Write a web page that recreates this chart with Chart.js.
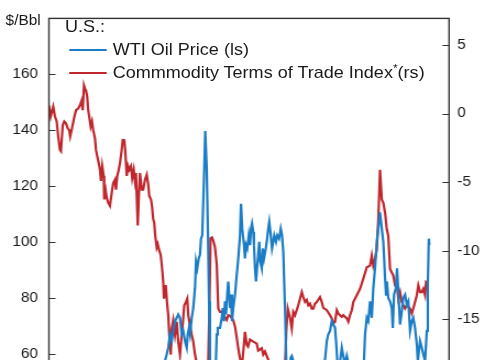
<!DOCTYPE html>
<html>
<head>
<meta charset="utf-8">
<script src="https://cdn.jsdelivr.net/npm/chart.js@4.4.1/dist/chart.umd.min.js"></script>
<style>
html,body{margin:0;padding:0;background:#fff;overflow:hidden;width:485px;height:360px;}
#wrap{position:absolute;left:0;top:0;width:441px;height:540px;transform:scaleX(1.0998);transform-origin:0 0;font-family:"Liberation Sans",Arial,sans-serif;color:#1a1a1a;}
#c{position:absolute;left:0;top:0;}
.t{position:absolute;white-space:nowrap;line-height:1;}
.leg{font-size:16.4px;}
.sw{position:absolute;height:2.2px;width:34px;left:62.7px;}
.star{font-size:11px;position:relative;top:-6px;}
</style>
</head>
<body>
<div id="wrap">
  <div class="t" style="right:404px;top:13px;font-size:14px;">$/Bbl</div>
  <canvas id="c" width="441" height="540"></canvas>
  <div class="t leg" style="left:59.1px;top:18.4px;">U.S.:</div>
  <div class="sw" style="top:49px;background:#1b7dc5;"></div>
  <div class="t leg" style="left:102.5px;top:41px;">WTI Oil Price (ls)</div>
  <div class="sw" style="top:72px;background:#c0272d;"></div>
  <div class="t leg" style="left:102.5px;top:63.5px;">Commmodity Terms of Trade Index<span class="star">*</span>(rs)</div>
</div>
<script>
// Time axis in decimal years
const leftTicks = [0, 20, 40, 60, 80, 100, 120, 140, 160];
const rightTicks = [-25, -20, -15, -10, -5, 0, 5];

// U.S. commodity terms of trade index (right scale)
const totDates = [1996.00,1996.14,1996.26,1996.34,1996.48,1996.62,1996.74,1996.88,1996.96,1997.10,1997.22,1997.36,1997.50,1997.62,1997.70,1997.84,1998.00,1998.16,1998.34,1998.48,1998.62,1998.70,1998.80,1998.88,1998.96,1999.06,1999.14,1999.22,1999.34,1999.44,1999.54,1999.68,1999.76,1999.86,1999.98,2000.08,2000.16,2000.26,2000.38,2000.42,2000.54,2000.62,2000.74,2000.88,2001.02,2001.14,2001.28,2001.36,2001.46,2001.58,2001.68,2001.82,2001.90,2002.02,2002.10,2002.22,2002.32,2002.42,2002.56,2002.66,2002.78,2002.88,2002.96,2003.10,2003.20,2003.28,2003.42,2003.54,2003.68,2003.82,2003.94,2004.02,2004.16,2004.24,2004.34,2004.42,2004.50,2004.62,2004.70,2004.82,2004.94,2005.04,2005.14,2005.20,2005.34,2005.44,2005.54,2005.62,2005.74,2005.82,2005.94,2006.08,2006.22,2006.34,2006.48,2006.62,2006.74,2006.82,2006.96,2007.06,2007.14,2007.28,2007.42,2007.54,2007.68,2007.82,2007.96,2008.08,2008.24,2008.40,2008.56,2008.68,2008.74,2008.84,2008.92,2009.04,2009.14,2009.28,2009.42,2009.54,2009.68,2009.82,2009.94,2010.22,2010.34,2010.48,2010.74,2010.88,2011.02,2011.14,2011.28,2011.44,2011.68,2011.82,2011.92,2012.08,2012.34,2012.62,2012.74,2013.02,2013.14,2013.28,2013.54,2013.68,2014.00,2014.32,2014.64,2014.88,2014.98,2015.10,2015.28,2015.42,2015.54,2015.68,2015.94,2016.08,2016.22,2016.34,2016.48,2016.62,2016.74,2016.88,2017.02,2017.14,2017.28,2017.42,2017.68,2017.82,2017.94,2018.22,2018.48,2018.62,2018.74,2018.88,2019.02,2019.14,2019.28,2019.42,2019.54,2019.82,2019.94,2020.08,2020.22,2020.34,2020.62,2020.88,2021.14,2021.42,2021.68,2021.82,2021.94,2022.08,2022.22,2022.34,2022.48,2022.62,2022.74,2022.88,2023.02,2023.14,2023.28,2023.54,2023.68,2023.82,2023.94,2024.08,2024.22,2024.34,2024.48,2024.62,2024.88,2025.02,2025.14,2025.42,2025.54,2025.68,2025.82,2025.94,2026.08,2026.16,2026.34];
const totValues = [0.60,-0.22,0.24,0.51,-0.22,-0.58,-1.66,-2.65,-2.75,-0.85,-0.58,-0.72,-1.08,-1.21,-1.66,-1.08,-0.36,0.24,0.36,0.60,0.96,0.24,2.04,1.81,1.68,1.21,0.24,-0.22,-0.94,-0.58,-1.21,-1.81,-2.65,-3.11,-3.61,-4.10,-4.91,-3.83,-4.55,-6.26,-5.64,-6.14,-6.50,-6.72,-5.78,-5.06,-4.82,-5.54,-4.55,-4.10,-3.61,-2.65,-1.93,-1.95,-2.65,-4.55,-3.83,-4.10,-3.83,-4.70,-4.10,-4.91,-4.34,-8.16,-5.78,-4.34,-5.54,-5.54,-4.82,-4.46,-5.18,-6.00,-6.26,-6.72,-7.71,-7.95,-8.89,-9.75,-9.52,-9.97,-10.33,-11.20,-12.28,-13.49,-12.50,-13.73,-14.67,-16.11,-17.56,-15.66,-15.05,-16.11,-15.17,-16.62,-17.56,-16.11,-14.93,-13.97,-13.73,-13.49,-14.69,-15.41,-16.13,-16.62,-17.56,-18.21,-19.51,-20.95,-22.40,-23.12,-21.68,-20.23,-18.06,-13.73,-9.10,-9.03,-9.25,-9.75,-10.98,-14.21,-14.45,-14.45,-14.67,-15.03,-14.69,-14.74,-15.05,-15.53,-16.33,-17.12,-17.85,-18.42,-15.90,-16.86,-16.98,-16.47,-16.62,-16.76,-17.27,-17.10,-17.56,-17.34,-17.92,-18.79,-19.51,-19.87,-19.15,-18.42,-15.90,-14.21,-14.88,-15.66,-14.45,-14.69,-13.97,-13.49,-13.01,-13.37,-13.73,-13.58,-13.97,-13.85,-14.21,-14.21,-13.85,-13.73,-13.37,-13.73,-14.16,-14.33,-14.69,-14.93,-15.30,-15.17,-14.33,-14.57,-14.69,-14.81,-14.69,-14.93,-15.17,-14.69,-14.33,-13.73,-13.24,-12.77,-12.04,-11.20,-11.08,-10.35,-11.08,-10.60,-9.88,-7.71,-4.10,-6.26,-6.50,-7.23,-8.43,-8.91,-11.32,-11.80,-12.52,-12.52,-13.49,-13.01,-13.73,-13.97,-14.21,-13.97,-14.21,-14.57,-14.21,-13.24,-12.52,-13.01,-13.01,-12.77,-13.24,-12.28,-12.41];

// WTI oil price, $/Bbl (left scale)
const wtiDates = [1996.00,1996.80,1997.90,1998.90,1999.90,2000.70,2001.90,2002.90,2003.50,2004.00,2004.50,2004.90,2005.10,2005.28,2005.42,2005.54,2005.68,2005.82,2005.94,2006.08,2006.22,2006.34,2006.48,2006.62,2006.74,2006.88,2007.02,2007.10,2007.20,2007.28,2007.42,2007.54,2007.68,2007.76,2007.86,2007.98,2008.08,2008.16,2008.26,2008.34,2008.42,2008.50,2008.62,2008.72,2008.80,2008.88,2009.00,2009.16,2009.30,2009.42,2009.50,2009.68,2009.82,2009.90,2010.00,2010.08,2010.16,2010.26,2010.34,2010.48,2010.56,2010.64,2010.74,2010.88,2011.02,2011.14,2011.28,2011.36,2011.46,2011.60,2011.68,2011.76,2011.86,2011.98,2012.08,2012.16,2012.24,2012.34,2012.40,2012.48,2012.56,2012.64,2012.74,2012.82,2012.90,2013.02,2013.10,2013.20,2013.30,2013.42,2013.54,2013.62,2013.74,2013.84,2013.94,2014.02,2014.16,2014.26,2014.40,2014.54,2014.64,2014.74,2014.82,2014.90,2014.98,2015.12,2015.24,2015.34,2015.42,2015.54,2015.76,2016.00,2016.24,2016.56,2016.88,2017.20,2017.52,2017.84,2018.08,2018.22,2018.34,2018.48,2018.62,2018.74,2018.88,2018.96,2019.06,2019.20,2019.42,2019.54,2019.68,2019.82,2019.94,2020.08,2020.24,2020.40,2020.56,2020.72,2020.88,2021.04,2021.20,2021.28,2021.42,2021.54,2021.68,2021.82,2021.94,2022.08,2022.22,2022.34,2022.48,2022.62,2022.74,2022.82,2022.88,2022.96,2023.02,2023.14,2023.28,2023.42,2023.50,2023.60,2023.74,2023.84,2023.94,2024.08,2024.22,2024.34,2024.48,2024.62,2024.74,2024.88,2025.02,2025.14,2025.28,2025.42,2025.50,2025.68,2025.82,2025.94,2026.08,2026.22,2026.30,2026.38,2026.42];
const wtiValues = [19.5,25.0,18.5,11.5,26.0,33.0,19.5,30.0,30.5,34.0,41.0,46.0,52.0,57.5,59.9,62.2,67.0,64.6,68.2,71.7,72.9,74.1,72.9,67.0,68.2,64.6,62.2,67.0,69.3,67.0,72.9,76.4,83.5,93.0,90.6,94.2,95.4,101.2,102.4,114.3,126.1,139.7,126.1,102.4,78.8,57.5,42.0,40.0,50.0,67.0,69.3,69.3,72.9,76.4,71.7,78.8,74.1,81.2,85.9,76.4,81.2,71.7,76.4,81.2,88.3,94.1,102.4,113.7,104.8,98.9,94.1,98.9,97.7,102.4,98.9,104.8,106.6,103.6,98.9,90.6,85.9,90.6,95.4,100.1,93.0,90.6,97.7,94.1,96.5,100.1,104.8,107.2,102.4,97.7,100.1,102.4,100.1,102.4,101.2,104.8,102.4,96.5,84.7,72.9,57.5,48.0,52.0,58.7,59.3,57.5,45.0,32.0,38.0,45.0,49.0,52.0,47.0,55.0,58.0,64.6,67.0,68.2,71.7,70.5,69.3,64.6,57.5,54.0,62.2,59.3,56.0,59.3,57.0,52.0,30.0,22.0,40.0,40.0,42.0,52.0,58.0,67.0,72.9,71.7,78.8,72.9,83.5,90.6,100.1,104.8,110.6,104.8,100.1,93.0,87.1,81.2,85.9,80.0,78.8,76.4,69.3,81.2,83.5,90.6,82.3,70.5,75.3,80.0,81.2,77.6,78.8,68.2,71.7,72.9,69.3,63.4,57.5,64.6,62.2,59.9,57.5,68.2,84.7,101.2,98.9];

const toPoints = (xs, ys) => xs.map((x, i) => ({x: x, y: ys[i]}));

const frame = {
  id: 'frame',
  afterDatasetsDraw(chart) {
    const {ctx, chartArea: a, scales} = chart;
    ctx.save();
    ctx.strokeStyle = '#333';
    ctx.lineWidth = 1.4;
    ctx.strokeRect(a.left, a.top, a.right - a.left, a.bottom - a.top);
    ctx.lineWidth = 1;
    scales.y.ticks.forEach(t => {
      const p = Math.round(scales.y.getPixelForValue(t.value)) + 0.5;
      ctx.beginPath(); ctx.moveTo(a.left, p); ctx.lineTo(a.left + 6, p); ctx.stroke();
    });
    scales.y2.ticks.forEach(t => {
      const p = Math.round(scales.y2.getPixelForValue(t.value)) + 0.5;
      ctx.beginPath(); ctx.moveTo(a.right, p); ctx.lineTo(a.right - 6, p); ctx.stroke();
    });
    ctx.restore();
  }
};

Chart.defaults.font.family = '"Liberation Sans", Arial, sans-serif';

new Chart(document.getElementById('c'), {
  type: 'line',
  data: {
    datasets: [
      {label: 'WTI Oil Price (ls)', data: toPoints(wtiDates, wtiValues), yAxisID: 'y',
       borderColor: '#1b7dc5', borderWidth: 2.2, pointRadius: 0, tension: 0},
      {label: 'Commmodity Terms of Trade Index*(rs)', data: toPoints(totDates, totValues), yAxisID: 'y2',
       borderColor: '#c0272d', borderWidth: 2.2, pointRadius: 0, tension: 0}
    ]
  },
  options: {
    responsive: false,
    animation: false,
    devicePixelRatio: 1,
    layout: {padding: {top: 15, bottom: 18, left: 0, right: 0}},
    plugins: {legend: {display: false}, tooltip: {enabled: false}},
    scales: {
      x: {type: 'linear', min: 1996, max: 2028, display: false},
      y: {
        position: 'left', min: 0, max: 180,
        grid: {display: false, drawTicks: false}, border: {display: false},
        ticks: {stepSize: 20, padding: 10, color: '#1a1a1a', font: {size: 14}},
        afterBuildTicks: s => { s.ticks = leftTicks.map(v => ({value: v})); },
        afterFit: s => { s.width = 44.5; }
      },
      y2: {
        position: 'right', min: -29.73, max: 6.93,
        grid: {display: false, drawTicks: false}, border: {display: false},
        ticks: {stepSize: 5, padding: 7.5, color: '#1a1a1a', font: {size: 14}},
        afterBuildTicks: s => { s.ticks = rightTicks.map(v => ({value: v})); },
        afterFit: s => { s.width = 32.7; }
      }
    }
  },
  plugins: [frame]
});
</script>
</body>
</html>
